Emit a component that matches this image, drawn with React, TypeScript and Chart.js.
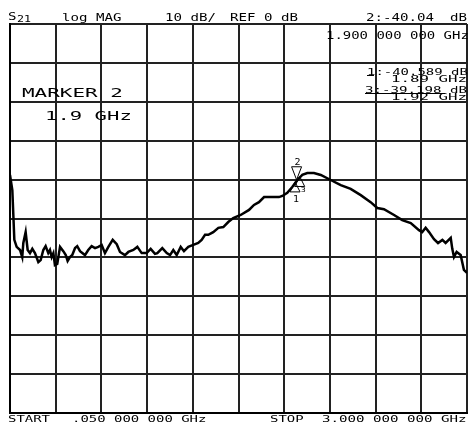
import { useEffect, useRef } from "react";
import { Chart, registerables } from "chart.js";

Chart.register(...registerables);

// Trace: S21 log magnitude vs frequency
const FREQ_GHZ = [
  0.05, 0.065, 0.078, 0.093, 0.115, 0.129, 0.136, 0.151, 0.164, 0.179, 0.194, 0.211, 0.233, 0.248,
  0.265, 0.28, 0.297, 0.308, 0.319, 0.33, 0.34, 0.355, 0.373, 0.394, 0.41, 0.422, 0.437, 0.452,
  0.47, 0.484, 0.502, 0.534, 0.555, 0.577, 0.599, 0.62, 0.642, 0.663, 0.685, 0.713, 0.739, 0.76,
  0.792, 0.814, 0.846, 0.872, 0.9, 0.932, 0.958, 0.986, 1.001, 1.033, 1.062, 1.083, 1.104, 1.126,
  1.152, 1.173, 1.201, 1.233, 1.265, 1.287, 1.309, 1.33, 1.362, 1.395, 1.427, 1.459, 1.491, 1.539,
  1.593, 1.625, 1.657, 1.69, 1.786, 1.808, 1.84, 1.872, 1.905, 1.937, 1.969, 2.012, 2.056, 2.12,
  2.185, 2.249, 2.314, 2.378, 2.421, 2.464, 2.529, 2.582, 2.637, 2.69, 2.711, 2.733, 2.755, 2.787,
  2.813, 2.841, 2.862, 2.895, 2.905, 2.916, 2.933, 2.959, 2.98, 3.0,
];
const S21_DB = [
  -38.8, -42.7, -55.5, -57.3, -58.1, -59.9, -56.3, -53.5, -58.1, -58.9, -57.8, -58.9, -61.2, -60.7,
  -58.1, -57.1, -58.9, -58.1, -59.9, -58.9, -62.0, -61.7, -57.3, -58.4, -59.4, -60.9, -59.9, -59.4,
  -57.6, -57.1, -58.4, -59.4, -58.1, -57.1, -57.6, -57.3, -56.8, -58.9, -57.3, -55.5, -56.6, -58.6,
  -59.4, -58.6, -58.1, -57.3, -58.9, -58.9, -57.8, -59.1, -58.9, -57.6, -58.9, -59.4, -58.1, -59.4,
  -57.3, -58.4, -57.3, -56.8, -56.3, -55.5, -54.2, -54.2, -53.5, -52.4, -52.2, -50.9, -49.9, -49.1,
  -47.8, -46.5, -45.8, -44.5, -44.5, -44.2, -43.4, -41.9, -40.1, -38.8, -38.3, -38.3, -38.8, -40.1,
  -41.4, -42.4, -44.0, -45.8, -47.3, -47.6, -49.1, -50.4, -51.2, -53.0, -53.5, -52.4, -53.5, -55.3,
  -56.3, -55.5, -56.3, -55.0, -57.8, -59.9, -58.6, -59.4, -63.2, -64.0,
];

// Markers
const MARKER_IDS = ["1", "2", "3"];
const MARKER_FREQ_GHZ = [1.89, 1.9, 1.92];
const MARKER_DB = [-40.589, -40.04, -39.198];

// Scale settings
const START_GHZ = 0.05;
const STOP_GHZ = 3.0;
const REF_DB = 0;
const DB_PER_DIV = 10;
const DIVISIONS = 10;

const FONT = '"DejaVu Sans Mono", monospace';

function drawText(ctx: CanvasRenderingContext2D, text: string, x: number, y: number, size: number, adv: number) {
  ctx.save();
  ctx.font = `${size}px ${FONT}`;
  ctx.textAlign = "left";
  ctx.textBaseline = "alphabetic";
  ctx.fillStyle = "#000";
  const w = ctx.measureText("0").width;
  const sx = adv / w;
  ctx.translate(x, y);
  ctx.scale(sx, 1);
  ctx.fillText(text, 0, 0);
  ctx.restore();
}

const annotationPlugin = {
  id: "hpAnnotations",
  afterDraw(chart: any) {
    const ctx: CanvasRenderingContext2D = chart.ctx;
    // header
    drawText(ctx, "S", 8, 20, 11, 8.5);
    drawText(ctx, "21", 17, 22, 9, 7);
    drawText(ctx, "log MAG", 62, 21, 11, 8.5);
    drawText(ctx, "10 dB/", 165, 21, 11, 8.5);
    drawText(ctx, "REF 0 dB", 230, 21, 11, 8.5);
    drawText(ctx, "2:-40.04", 366, 21, 11, 8.5);
    drawText(ctx, "dB", 450, 21, 11, 8.5);
    drawText(ctx, "1.900 000 000 GHz", 326, 39, 11, 8.4);
    // marker info
    drawText(ctx, "MARKER 2", 22, 97, 12.5, 12.6);
    drawText(ctx, "1.9 GHz", 45, 120, 12.5, 12.4);
    drawText(ctx, "1:-40.589 dB", 367, 75, 9.5, 8.4);
    drawText(ctx, "1.89 GHz", 391, 82, 9.5, 9.5);
    drawText(ctx, "3:-39.198 dB", 365, 93, 9.5, 8.5);
    drawText(ctx, "1.92 GHz", 391, 100, 9.5, 9.5);
    ctx.save();
    ctx.strokeStyle = "#000";
    ctx.lineWidth = 1;
    ctx.beginPath();
    ctx.moveTo(365, 93.5);
    ctx.lineTo(445, 93.5);
    ctx.moveTo(367, 75.5);
    ctx.lineTo(374, 75.5);
    ctx.stroke();
    ctx.restore();
    // footer
    drawText(ctx, "START", 8, 422, 9.5, 8.4);
    drawText(ctx, ".050 000 000 GHz", 72, 422, 9.5, 8.4);
    drawText(ctx, "STOP", 270, 422, 9.5, 8.4);
    drawText(ctx, "3.000 000 000 GHz", 322, 422, 9.5, 8.5);

    // marker symbols
    const xs = chart.scales.x;
    const ys = chart.scales.y;
    ctx.save();
    ctx.strokeStyle = "#000";
    ctx.lineWidth = 1;
    MARKER_IDS.forEach((id, i) => {
      const px = xs.getPixelForValue(MARKER_FREQ_GHZ[i]);
      const py = ys.getPixelForValue(MARKER_DB[i]);
      ctx.beginPath();
      if (id === "2") {
        ctx.moveTo(px, py);
        ctx.lineTo(px - 5, py - 13);
        ctx.lineTo(px + 5, py - 13);
        ctx.closePath();
        ctx.stroke();
        drawText(ctx, id, px - 2, py - 15, 8, 6);
      } else {
        ctx.moveTo(px, py);
        ctx.lineTo(px - 5, py + 10);
        ctx.lineTo(px + 5, py + 10);
        ctx.closePath();
        ctx.stroke();
        if (id === "1") drawText(ctx, id, px - 2, py + 20, 8, 6);
        else drawText(ctx, id, px + 1, py + 16, 7, 5);
      }
    });
    ctx.restore();
  },
};

export default function App() {
  const ref = useRef<HTMLCanvasElement | null>(null);
  useEffect(() => {
    document.body.style.margin = "0";
    const canvas = ref.current;
    if (!canvas) return;
    const points = FREQ_GHZ.map((f, i) => ({ x: f, y: S21_DB[i] }));
    const chart = new Chart(canvas, {
      type: "line",
      data: {
        datasets: [
          {
            label: "S21",
            data: points,
            borderColor: "#000",
            borderWidth: 2.5,
            pointRadius: 0,
            tension: 0,
            fill: false,
          },
        ],
      },
      options: {
        animation: false,
        responsive: false,
        maintainAspectRatio: false,
        events: [],
        layout: { padding: { left: 10, top: 24, right: 1, bottom: 10 } },
        plugins: { legend: { display: false }, tooltip: { enabled: false }, title: { display: false } },
        scales: {
          x: {
            type: "linear",
            min: START_GHZ,
            max: STOP_GHZ,
            afterBuildTicks: (scale: any) => {
              const step = (STOP_GHZ - START_GHZ) / DIVISIONS;
              scale.ticks = Array.from({ length: DIVISIONS + 1 }, (_, i) => ({ value: START_GHZ + i * step }));
            },
            grid: { color: "#222", lineWidth: 2, drawTicks: false },
            border: { display: true, color: "#000", width: 2 },
            ticks: { display: false },
          },
          y: {
            type: "linear",
            min: REF_DB - DB_PER_DIV * DIVISIONS,
            max: REF_DB,
            ticks: { display: false, stepSize: DB_PER_DIV },
            grid: { color: "#222", lineWidth: 2, drawTicks: false },
            border: { display: true, color: "#000", width: 2 },
          },
        },
      },
      plugins: [annotationPlugin],
    });
    return () => chart.destroy();
  }, []);
  return (
    <div style={{ position: "relative", width: 468, height: 423, background: "#fff" }}>
      <canvas ref={ref} width={468} height={423} />
    </div>
  );
}
